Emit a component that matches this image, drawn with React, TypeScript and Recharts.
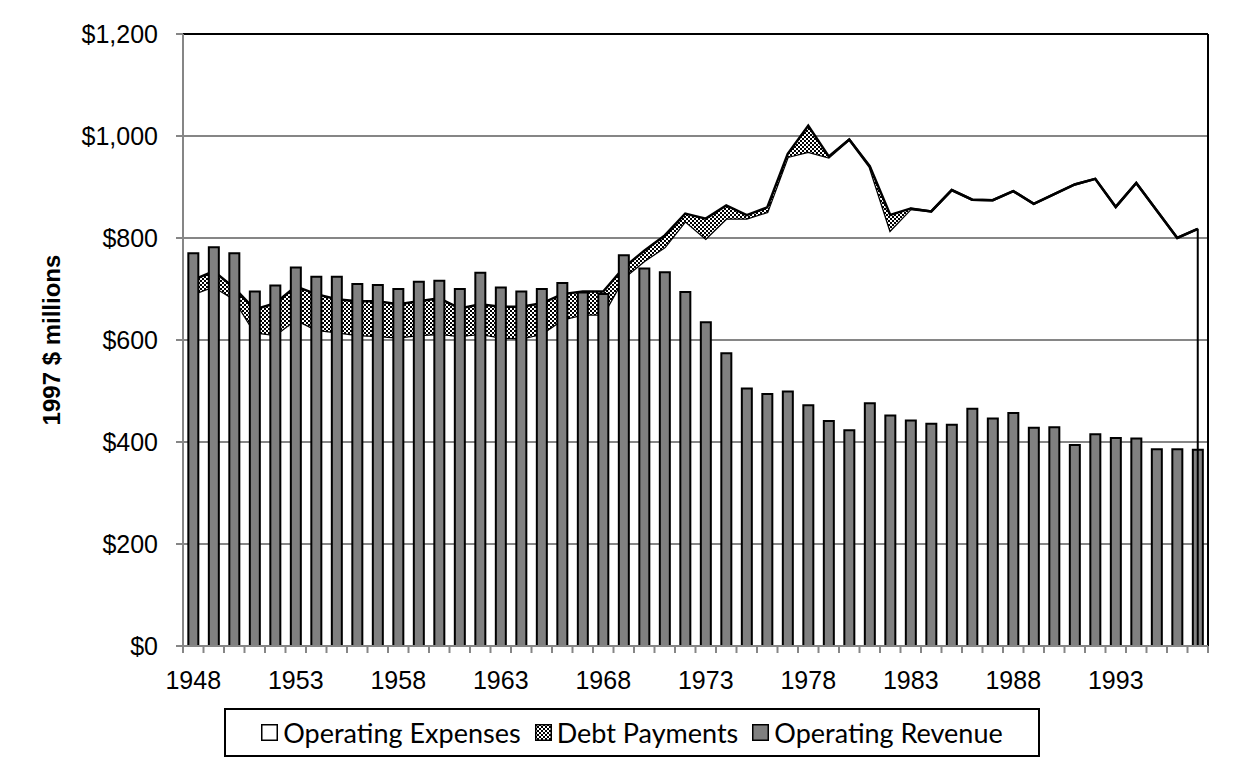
import { Area, Bar, CartesianGrid, ComposedChart, ReferenceLine, XAxis, YAxis } from "recharts"

const years = [
  "1948", "1949", "1950", "1951", "1952", "1953", "1954", "1955", "1956", "1957",
  "1958", "1959", "1960", "1961", "1962", "1963", "1964", "1965", "1966", "1967",
  "1968", "1969", "1970", "1971", "1972", "1973", "1974", "1975", "1976", "1977",
  "1978", "1979", "1980", "1981", "1982", "1983", "1984", "1985", "1986", "1987",
  "1988", "1989", "1990", "1991", "1992", "1993", "1994", "1995", "1996", "1997",
]

// 1997 $ millions
const operatingRevenue = [
  770, 782, 770, 695, 707, 742, 724, 724, 710, 708,
  700, 714, 716, 700, 732, 703, 695, 700, 712, 693,
  690, 766, 740, 733, 694, 635, 574, 505, 494, 499,
  472, 441, 423, 476, 452, 442, 436, 434, 465, 446,
  457, 428, 429, 394, 415, 408, 407, 386, 386, 385,
]

const operatingExpenses = [
  690, 705, 680, 615, 610, 640, 620, 615, 610, 608,
  605, 610, 612, 608, 612, 605, 603, 612, 640, 650,
  650, 722, 755, 782, 833, 799, 838, 838, 851, 959,
  969, 958, 993, 939, 815, 857, 852, 894, 875, 874,
  892, 867, 886, 905, 916, 861, 908, 854, 800, 818,
]

const debtPayments = [
  28, 30, 22, 45, 62, 65, 70, 65, 66, 68,
  65, 66, 70, 54, 58, 60, 62, 60, 50, 45,
  45, 20, 20, 23, 15, 39, 26, 7, 9, 6,
  51, 2, 0, 2, 30, 1, 0, 0, 0, 0,
  0, 0, 0, 0, 0, 0, 0, 0, 0, 0,
]

const yTicks = [0, 200, 400, 600, 800, 1000, 1200]

const data = years.map((year, i) => ({
  year,
  revenue: operatingRevenue[i],
  expenses: operatingExpenses[i],
  debt: debtPayments[i],
}))

const lastYear = years[years.length - 1]
const lastTop = operatingExpenses[years.length - 1] + debtPayments[years.length - 1]

const W = 1253
const H = 770
const PLOT_LEFT = 183
const PLOT_RIGHT = 1208
const BAND = (PLOT_RIGHT - PLOT_LEFT) / years.length
const AXIS_FONT = "'Liberation Sans', Arial, sans-serif"
const GRAY = "#868686"

function YearTick(props: any) {
  const { x, y, payload } = props
  const i = payload.index ?? props.index
  const left = x - BAND / 2
  return (
    <g>
      <line x1={left} x2={left} y1={y} y2={y + 7} stroke={GRAY} strokeWidth={2} />
      {i === years.length - 1 && (
        <line x1={x + BAND / 2} x2={x + BAND / 2} y1={y} y2={y + 7} stroke={GRAY} strokeWidth={2} />
      )}
      {i % 5 === 0 && (
        <text x={x} y={y + 43} textAnchor="middle" fontSize={25} fill="#000" fontFamily={AXIS_FONT}>
          {payload.value}
        </text>
      )}
    </g>
  )
}

function LegendSwatch({ kind }: { kind: string }) {
  return (
    <svg width={17} height={17} style={{ marginRight: 5 }}>
      <defs>
        <pattern id={"lg-" + kind} patternUnits="userSpaceOnUse" width={4} height={4}>
          <rect width={4} height={4} fill="#fff" />
          <rect width={2} height={2} fill="#000" />
          <rect x={2} y={2} width={2} height={2} fill="#000" />
        </pattern>
      </defs>
      <rect
        x={0.75}
        y={0.75}
        width={15.5}
        height={15.5}
        fill={kind === "debt" ? "url(#lg-debt)" : kind === "rev" ? "#808080" : "#fff"}
        stroke="#000"
        strokeWidth={1.5}
      />
    </svg>
  )
}

export default function App() {
  return (
    <div
      style={{
        position: "relative",
        width: W,
        height: H,
        margin: -8,
        overflow: "hidden",
        background: "#fff",
      }}
    >
      {/* outer frame, only top and left edges fall inside the picture */}
      <div
        style={{
          position: "absolute",
          left: 5,
          top: 4,
          width: 2000,
          height: 2000,
          borderLeft: "2px solid #000",
          borderTop: "2px solid #000",
        }}
      />
      <div style={{ position: "absolute", left: 0, top: 0 }}>
        <ComposedChart
          width={W}
          height={H}
          data={data}
          margin={{ top: 34, right: W - PLOT_RIGHT, bottom: 74, left: 0 }}
          barCategoryGap="26%"
        >
          <defs>
            <pattern id="hatch" patternUnits="userSpaceOnUse" width={4} height={4}>
              <rect width={4} height={4} fill="#fff" />
              <rect width={2} height={2} fill="#000" />
              <rect x={2} y={2} width={2} height={2} fill="#000" />
            </pattern>
          </defs>
          <CartesianGrid vertical={false} stroke={GRAY} strokeWidth={2} />
          <XAxis
            dataKey="year"
            height={50}
            interval={0}
            tickLine={false}
            tickSize={0}
            tickMargin={0}
            axisLine={{ stroke: GRAY, strokeWidth: 2 }}
            tick={<YearTick />}
          />
          <YAxis
            width={PLOT_LEFT}
            domain={[0, 1200]}
            ticks={yTicks}
            tickSize={7}
            tickMargin={18}
            tickFormatter={(v) => "$" + v.toLocaleString("en-US")}
            tick={{ fill: "#000", fontSize: 25, fontFamily: AXIS_FONT }}
            tickLine={{ stroke: GRAY, strokeWidth: 2 }}
            axisLine={{ stroke: GRAY, strokeWidth: 2 }}
          />
          <Area
            type="linear"
            dataKey="expenses"
            stackId="cost"
            stroke="#000"
            strokeWidth={2.5}
            fill="none"
            isAnimationActive={false}
          />
          <Area
            type="linear"
            dataKey="debt"
            stackId="cost"
            stroke="#000"
            strokeWidth={2.5}
            fill="url(#hatch)"
            fillOpacity={1}
            isAnimationActive={false}
          />
          <Bar dataKey="revenue" fill="#808080" stroke="#000" strokeWidth={2} isAnimationActive={false} />
          <ReferenceLine
            segment={[
              { x: lastYear, y: 0 },
              { x: lastYear, y: lastTop },
            ]}
            stroke="#000"
            strokeWidth={2}
          />
          <ReferenceLine y={1200} stroke="#000" strokeWidth={2} />
          <ReferenceLine x={lastYear} position="end" stroke="#000" strokeWidth={2} />
        </ComposedChart>
      </div>
      <div
        style={{
          position: "absolute",
          left: 52,
          top: 340,
          transform: "translate(-50%, -50%) rotate(-90deg)",
          whiteSpace: "nowrap",
          fontFamily: AXIS_FONT,
          fontWeight: "bold",
          fontSize: 24,
        }}
      >
        1997 $ millions
      </div>
      <div
        style={{
          position: "absolute",
          left: 224,
          top: 708,
          width: 816,
          height: 49,
          boxSizing: "border-box",
          border: "2px solid #000",
          display: "flex",
          alignItems: "center",
          justifyContent: "center",
          gap: 14,
          fontFamily: "Lato, 'Noto Sans', sans-serif",
          fontSize: 27,
        }}
      >
        <span style={{ display: "flex", alignItems: "center" }}>
          <LegendSwatch kind="exp" />
          Operating Expenses
        </span>
        <span style={{ display: "flex", alignItems: "center" }}>
          <LegendSwatch kind="debt" />
          Debt Payments
        </span>
        <span style={{ display: "flex", alignItems: "center" }}>
          <LegendSwatch kind="rev" />
          Operating Revenue
        </span>
      </div>
    </div>
  )
}
